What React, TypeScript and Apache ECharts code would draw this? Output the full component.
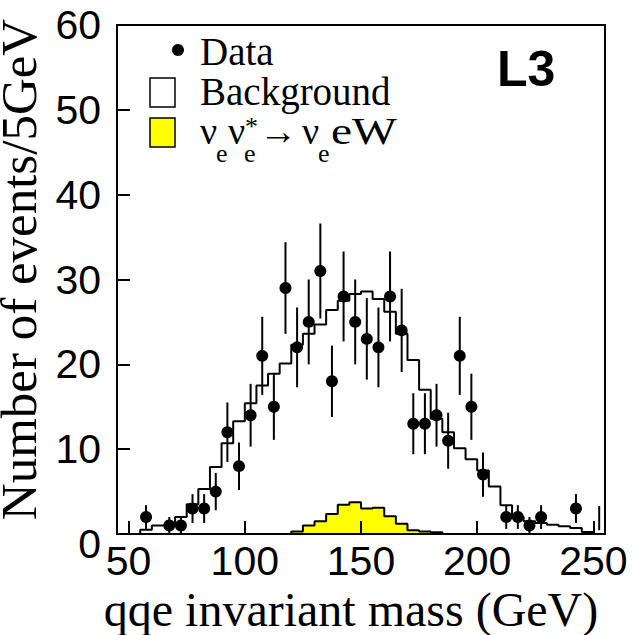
import React, { useEffect, useRef } from "react";
import * as echarts from "echarts";

// ---- data ----
const binLow = [45, 50, 55, 60, 65, 70, 75, 80, 85, 90, 95, 100, 105, 110, 115, 120, 125, 130, 135, 140, 145, 150, 155, 160, 165, 170, 175, 180, 185, 190, 195, 200, 205, 210, 215, 220, 225, 230, 235, 240, 245, 250];
const binWidth = 5;
const background = [0, 0, 0.5, 1.0, 1.0, 2.0, 3.5, 5.3, 7.9, 10.7, 13.3, 15.4, 17.5, 18.9, 20.1, 22.3, 23.6, 24.7, 26.4, 27.5, 28.3, 28.6, 27.7, 26.2, 23.6, 20.5, 17.0, 13.6, 12.0, 10.1, 8.8, 7.5, 5.6, 3.4, 2.0, 1.5, 1.3, 1.1, 0.9, 0.7, 0.25, 0];
const signal = [0, 0, 0, 0, 0, 0, 0, 0, 0, 0, 0, 0, 0, 0, 0, 0.3, 1.0, 1.5, 2.35, 3.45, 3.75, 3.0, 3.1, 2.1, 1.2, 0.45, 0.3, 0.2, 0, 0, 0, 0, 0, 0, 0, 0, 0, 0, 0, 0, 0, 0];
const dataMass = [57.5, 67.5, 72.5, 77.5, 82.5, 87.5, 92.5, 97.5, 102.5, 107.5, 112.5, 117.5, 122.5, 127.5, 132.5, 137.5, 142.5, 147.5, 152.5, 157.5, 162.5, 167.5, 172.5, 177.5, 182.5, 187.5, 192.5, 197.5, 202.5, 212.5, 217.5, 222.5, 227.5, 242.5];
const dataCounts = [2, 1, 1, 3, 3, 5, 12, 8, 14, 21, 15, 29, 22, 25, 31, 18, 28, 25, 23, 22, 28, 24, 13, 13, 14, 11, 21, 15, 7, 2, 2, 1, 2, 3];
const dataErr = [1.4, 1.0, 1.0, 1.7, 1.7, 2.2, 3.5, 2.8, 3.7, 4.6, 3.9, 5.4, 4.7, 5.0, 5.6, 4.2, 5.3, 5.0, 4.8, 4.7, 5.3, 4.9, 3.6, 3.6, 3.7, 3.3, 4.6, 3.9, 2.6, 1.4, 1.4, 1.0, 1.4, 1.7];
const emptyBinMass = [252.5];
const emptyBinLow = [0.45];
const emptyBinHigh = [3.3];
const xTicks = [50, 100, 150, 200, 250];
const yTicks = [0, 10, 20, 30, 40, 50, 60];
const xTitle = "qqe invariant mass (GeV)";
const yTitle = "Number of events/5GeV";
const legendLabels = ["Data", "Background"];
const experiment = "L3";

const SANS = '"Liberation Sans", Arial, sans-serif';
const SERIF = '"Liberation Serif", "Times New Roman", serif';

function histPoints(vals: number[]) {
  const pts = binLow.map((x, i) => [x, vals[i]]);
  pts.push([binLow[binLow.length - 1] + binWidth, vals[vals.length - 1]]);
  return pts;
}

function txt(x: number, y: number, text: string, size: number, family = SERIF, weight = "normal", scaleX = 1) {
  return {
    type: "text",
    x,
    y,
    scaleX,
    z: 100,
    style: { text, fontSize: size, fontFamily: family, fontWeight: weight, fill: "#000", align: "left", verticalAlign: "middle" },
  };
}

export default function App() {
  const ref = useRef<HTMLDivElement>(null);
  useEffect(() => {
    if (!ref.current) return;
    const chart = echarts.init(ref.current, null, { renderer: "svg" });
    const errData = dataMass.map((m, i) => [m, dataCounts[i] - dataErr[i], dataCounts[i] + dataErr[i]]);
    emptyBinMass.forEach((m, i) => errData.push([m, emptyBinLow[i], emptyBinHigh[i]]));
    const option: any = {
      animation: false,
      grid: {
        left: 117, right: 28, top: 25, bottom: 101,
        containLabel: false, outerBoundsMode: "none",
        show: true, borderColor: "#000", borderWidth: 2, backgroundColor: "transparent",
      },
      xAxis: {
        type: "value",
        min: 45,
        max: 255,
        z: 5,
        axisLine: { show: true, onZero: false, lineStyle: { color: "#000", width: 2 } },
        axisTick: { show: true, inside: true, length: 13, customValues: xTicks, lineStyle: { color: "#000", width: 2 } },
        axisLabel: { customValues: xTicks, color: "#000", fontSize: 41, fontFamily: SANS, margin: 6 },
        splitLine: { show: false },
        name: xTitle,
        nameLocation: "middle",
        nameGap: 49,
        nameTextStyle: { color: "#000", fontSize: 48, fontFamily: SERIF, padding: [0, 20, 0, 0] },
      },
      yAxis: {
        type: "value",
        min: 0,
        max: 60,
        interval: 10,
        z: 5,
        axisLine: { show: true, lineStyle: { color: "#000", width: 2 } },
        axisTick: { show: true, inside: true, length: 13, customValues: yTicks, lineStyle: { color: "#000", width: 2 } },
        axisLabel: {
          color: "#000",
          fontSize: 41,
          fontFamily: SANS,
          margin: 16,
          formatter: (v: number) => (v === 0 ? "{z|0}" : String(v)),
          rich: { z: { color: "#000", fontSize: 41, fontFamily: SANS, padding: [20, 0, 0, 0] } },
        },
        splitLine: { show: false },
        name: yTitle,
        nameLocation: "middle",
        nameGap: 51,
        nameTextStyle: { color: "#000", fontSize: 51, fontFamily: SERIF, padding: [0, 0, 0, 20] },
      },
      series: [
        {
          type: "line",
          name: "Background",
          data: histPoints(background),
          step: "end",
          showSymbol: false,
          lineStyle: { color: "#000", width: 2 },
          z: 2,
        },
        {
          type: "line",
          name: "Signal",
          data: histPoints(signal),
          step: "end",
          showSymbol: false,
          lineStyle: { color: "#000", width: 2 },
          areaStyle: { color: "#ffff00", opacity: 1, origin: "start" },
          z: 3,
        },
        {
          type: "custom",
          name: "Errors",
          data: errData,
          encode: { x: 0, y: [1, 2] },
          renderItem: (params: any, api: any) => {
            const x = api.value(0);
            const p1 = api.coord([x, api.value(1)]);
            const p2 = api.coord([x, api.value(2)]);
            return {
              type: "line",
              shape: { x1: p1[0], y1: p1[1], x2: p2[0], y2: p2[1] },
              style: { stroke: "#000", lineWidth: 2 },
            };
          },
          z: 4,
        },
        {
          type: "scatter",
          name: "Data",
          data: dataMass.map((m, i) => [m, dataCounts[i]]),
          symbol: "circle",
          symbolSize: 12,
          itemStyle: { color: "#000", opacity: 1 },
          z: 4,
        },
      ],
      graphic: [
        { type: "circle", z: 100, shape: { cx: 178, cy: 50, r: 6 }, style: { fill: "#000" } },
        txt(200, 51, legendLabels[0], 39),
        { type: "rect", z: 100, shape: { x: 150, y: 78, width: 25, height: 29 }, style: { fill: "#fff", stroke: "#000", lineWidth: 1.5 } },
        txt(200, 91, legendLabels[1], 39),
        { type: "rect", z: 100, shape: { x: 150, y: 118, width: 25, height: 29 }, style: { fill: "#ffff00", stroke: "#000", lineWidth: 1.5 } },
        txt(200, 131, "ν", 38),
        txt(216, 153, "e", 26),
        txt(228, 131, "ν", 38),
        txt(244, 153, "e", 26),
        txt(245, 126, "*", 26),
        txt(259, 131, "→", 38),
        txt(302, 131, "ν", 38),
        txt(318, 153, "e", 26),
        txt(331, 131, "eW", 38, SERIF, "normal", 1.25),
        txt(497, 69, experiment, 50, SANS, "bold"),
      ],
    };
    chart.setOption(option);
    return () => chart.dispose();
  }, []);
  return <div ref={ref} style={{ position: "absolute", left: 0, top: 0, width: "633px", height: "635px" }} />;
}
